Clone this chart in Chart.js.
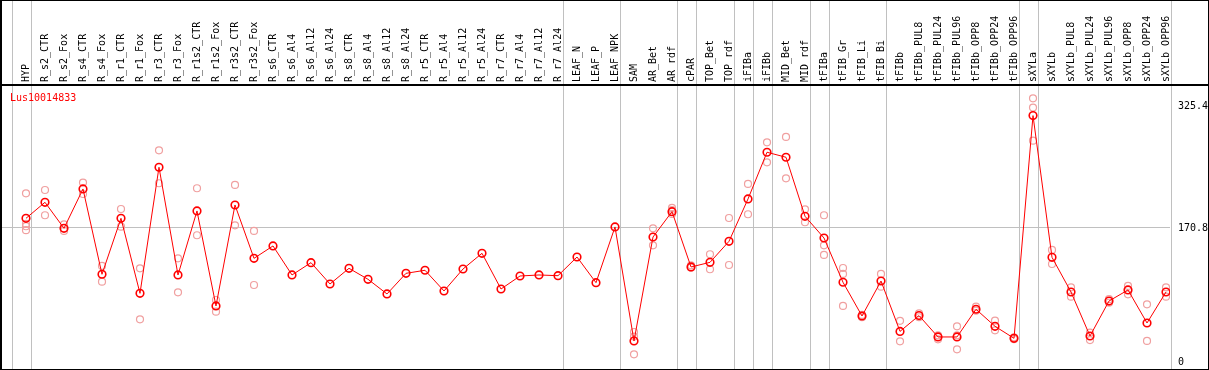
<!DOCTYPE html>
<html><head><meta charset="utf-8">
<script src="https://cdn.jsdelivr.net/npm/chart.js@4/dist/chart.umd.min.js"></script>
<style>html,body{margin:0;padding:0;background:#fff}#wrap{width:1209px;height:370px}</style>
</head><body><div id="wrap"><canvas id="c" width="1209" height="370"></canvas></div>
<script>
const chartTitle = 'Lus10014833';
const categories = ['HYP','R_s2_CTR','R_s2_Fox','R_s4_CTR','R_s4_Fox','R_r1_CTR','R_r1_Fox','R_r3_CTR','R_r3_Fox','R_r1s2_CTR','R_r1s2_Fox','R_r3s2_CTR','R_r3s2_Fox','R_s6_CTR','R_s6_Al4','R_s6_Al12','R_s6_Al24','R_s8_CTR','R_s8_Al4','R_s8_Al12','R_s8_Al24','R_r5_CTR','R_r5_Al4','R_r5_Al12','R_r5_Al24','R_r7_CTR','R_r7_Al4','R_r7_Al12','R_r7_Al24','LEAF_N','LEAF_P','LEAF_NPK','SAM','AR_Bet','AR_rdf','cPAR','TOP_Bet','TOP_rdf','iFIBa','iFIBb','MID_Bet','MID_rdf','tFIBa','tFIB_Gr','tFIB_Li','tFIB_Bi','tFIBb','tFIBb_PUL8','tFIBb_PUL24','tFIBb_PUL96','tFIBb_OPP8','tFIBb_OPP24','tFIBb_OPP96','sXYLa','sXYLb','sXYLb_PUL8','sXYLb_PUL24','sXYLb_PUL96','sXYLb_OPP8','sXYLb_OPP24','sXYLb_OPP96'];
const means = [183.1,203.5,170.4,220.5,111.8,183.1,87.5,248.2,110.9,192.5,71.4,200.1,132.1,147.9,110.9,126.6,99.4,119.4,105.4,86.7,113,116.9,90.5,118.5,138.5,93,109.6,110.9,110,133.8,101.1,172.1,26.8,159.3,191.6,121.1,127,153.8,207.8,267.3,260.9,185.7,158,101.6,58.6,103.2,39,59.1,31.9,31.9,67.2,45.5,30.2,314,133.4,89.2,33.1,77.7,91.8,49.7,89.2];
const rep1 = [215,219.2,175.5,228.6,122.4,195,119.4,269.8,132.1,221.4,79,225.6,167,null,null,null,null,null,null,null,null,null,null,null,null,null,null,null,null,null,null,null,38.2,170.4,196.3,123.2,137.3,183.5,226.9,280,286.8,194.6,187,119.8,60,112.2,52.5,62,34,45.5,70.5,52.7,31.5,336,142.8,95.2,37.4,80,96.9,73.5,95.2];
const rep2 = [176,187,167,214.1,102.4,172.5,54.4,227.8,88.8,161.5,64.1,174.2,98.1,null,null,null,null,null,null,null,null,null,null,null,null,null,null,null,null,null,null,null,9.8,148.7,188.6,120.2,118.2,123.6,188.3,254.5,234.1,178.1,148.7,112.2,57,96,26.3,57,28.9,16.2,65.4,40.4,29,324.2,124.9,83.3,28,75.5,86.3,26.8,83.3];
const rep3 = [168,null,null,null,null,null,null,null,null,null,null,null,null,null,null,null,null,null,null,null,null,null,null,null,null,null,null,null,null,null,null,null,32.4,null,193.7,null,null,null,null,null,null,null,136.4,71.4,null,null,null,null,null,34,null,null,null,282.1,null,null,null,null,null,null,null];
const rep4 = [173,null,null,null,null,null,null,null,null,null,null,null,null,null,null,null,null,null,null,null,null,null,null,null,null,null,null,null,null,null,null,null,null,null,null,null,null,null,null,null,null,null,null,null,null,null,null,null,null,null,null,null,null,null,null,null,null,null,null,null,null];
const yTickValues = [0, 170.8, 325.4];
const groupEnds = [-1,0,28,31,34,35,37,38,39,41,42,45,52,53,60];

const toPts = arr => arr.map((v,i)=>v==null?null:{x:i,y:v}).filter(p=>p);
const repColor = '#f0a0a0';
const repDs = [rep1,rep2,rep3,rep4].map((r,k)=>({
  type:'scatter', label:'rep'+(k+1), data:toPts(r), order:2,
  pointRadius:3.5, pointHoverRadius:3.5, pointBorderWidth:1.2,
  pointBorderColor:repColor, pointBackgroundColor:'rgba(0,0,0,0)', showLine:false
}));

const framePlugin = {
  id:'frame',
  beforeDraw(chart){
    const c = chart.ctx; c.save(); c.fillStyle='#fff'; c.fillRect(0,0,chart.width,chart.height); c.restore();
  },
  beforeDatasetsDraw(chart){
    const c = chart.ctx, xs = chart.scales.x;
    c.save(); c.strokeStyle='#c0c0c0'; c.lineWidth=1;
    groupEnds.forEach(g=>{
      const x = Math.round(xs.getPixelForValue(g+0.24))+0.5;
      c.beginPath(); c.moveTo(x,0); c.lineTo(x,chart.height); c.stroke();
    });
    c.restore();
  },
  afterDraw(chart){
    const c = chart.ctx, a = chart.chartArea;
    c.save();
    c.strokeStyle='#000'; c.lineWidth=1;
    c.strokeRect(0.5,0.5,chart.width-1,chart.height-1);
    c.lineWidth=2;
    c.beginPath(); c.moveTo(0,a.top); c.lineTo(chart.width,a.top); c.stroke();
    c.beginPath(); c.moveTo(1,0); c.lineTo(1,chart.height); c.stroke();
    c.fillStyle='#ff0000'; c.font='10px "DejaVu Sans Mono"'; c.textBaseline='alphabetic';
    c.fillText(chartTitle, 10, 101);
    c.restore();
  }
};

new Chart(document.getElementById('c'), {
  data:{ datasets:[
    { type:'line', label:chartTitle, data:toPts(means), order:1,
      borderColor:'#ff0000', borderWidth:1, tension:0,
      pointRadius:3.8, pointHoverRadius:3.8, pointBorderWidth:1.6,
      pointBorderColor:'#ff0000', pointBackgroundColor:'rgba(0,0,0,0)' },
    ...repDs
  ]},
  options:{
    responsive:false, animation:false, devicePixelRatio:1,
    layout:{autoPadding:false, padding:{left:2,top:0,right:0,bottom:2}},
    plugins:{legend:{display:false}, tooltip:{enabled:false}, title:{display:false}},
    scales:{
      x:{ type:'linear', position:'top', min:-1.263, max:60.21,
        afterBuildTicks(s){ s.ticks = categories.map((c,i)=>({value:i})); },
        afterFit(s){ s.height = 85; s.paddingLeft = 0; s.paddingRight = 0; s.paddingTop = 0; s.paddingBottom = 0; },
        grid:{display:false, drawTicks:false}, border:{display:false},
        ticks:{ autoSkip:false, minRotation:90, maxRotation:90, padding:3, labelOffset:12,
          color:'#000', font:{family:'DejaVu Sans Mono', size:10},
          callback:(v)=>categories[v] ?? '' }
      },
      y:{ type:'linear', position:'right', min:-7.65, max:353,
        afterBuildTicks(s){ s.ticks = yTickValues.map(v=>({value:v})); },
        afterFit(s){ s.width = 39; s.paddingTop = 0; s.paddingBottom = 0; s.paddingLeft = 0; s.paddingRight = 0; },
        grid:{ drawTicks:false, tickLength:0, color:(ctx)=>ctx.tick && ctx.tick.value===170.8 ? '#c0c0c0' : 'rgba(0,0,0,0)' },
        border:{display:false},
        ticks:{ padding:8, color:'#000', font:{family:'DejaVu Sans Mono', size:10}, callback:(v)=>String(v) }
      }
    }
  },
  plugins:[framePlugin]
});
</script></body></html>
